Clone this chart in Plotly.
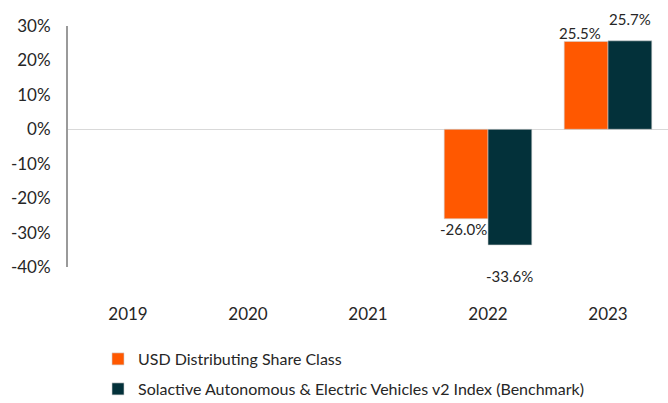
import plotly.graph_objects as go

years = ["2019", "2020", "2021", "2022", "2023"]
fund_name = "USD Distributing Share Class"
bench_name = "Solactive Autonomous & Electric Vehicles v2 Index (Benchmark)"
fund_values = [None, None, None, -26.0, 25.5]
bench_values = [None, None, None, -33.6, 25.7]
y_ticks = [30, 20, 10, 0, -10, -20, -30, -40]

ORANGE = "#FF5800"
DARK = "#03313A"
TEXT = "#262626"
FONT = "Lato"

fig = go.Figure()
fig.add_trace(go.Bar(x=years, y=fund_values, name=fund_name,
                     marker=dict(color=ORANGE, line=dict(color="#d0d0d0", width=0.6)),
                     legend="legend"))
fig.add_trace(go.Bar(x=years, y=bench_values, name=bench_name,
                     marker=dict(color=DARK, line=dict(color="#d0d0d0", width=0.6)),
                     legend="legend2"))

# value labels (offsets in px are style only)
fund_off = {3: (-3, -10), 4: (-6, 8)}
bench_off = {3: (0, -31), 4: (0, 22)}
for i, v in enumerate(fund_values):
    if v is None:
        continue
    dx, dy = fund_off.get(i, (0, 0))
    fig.add_annotation(x=i - 0.1825, y=v, text=f"{v:.1f}%", showarrow=False,
                       xshift=dx, yshift=dy, font=dict(size=15, color=TEXT, family=FONT))
for i, v in enumerate(bench_values):
    if v is None:
        continue
    dx, dy = bench_off.get(i, (0, 0))
    fig.add_annotation(x=i + 0.1825, y=v, text=f"{v:.1f}%", showarrow=False,
                       xshift=dx, yshift=dy, font=dict(size=15, color=TEXT, family=FONT))

fig.update_layout(
    width=668, height=403,
    margin=dict(l=68, r=0, t=26, b=136, autoexpand=False),
    paper_bgcolor="white", plot_bgcolor="white",
    barmode="group", bargap=0.27, bargroupgap=0,
    font=dict(family=FONT, color=TEXT, size=17),
    showlegend=True,
    legend=dict(xref="container", yref="container", x=98 / 668, y=1 - 359 / 403,
                xanchor="left", yanchor="middle",
                font=dict(size=16, color=TEXT, family=FONT), bgcolor="rgba(0,0,0,0)"),
    legend2=dict(xref="container", yref="container", x=98 / 668, y=1 - 389 / 403,
                 xanchor="left", yanchor="middle",
                 font=dict(size=16, color=TEXT, family=FONT), bgcolor="rgba(0,0,0,0)"),
)
fig.update_xaxes(type="category", showgrid=False, zeroline=False, showline=False,
                 automargin=False, ticks="", ticklabelstandoff=35,
                 tickfont=dict(size=17, color=TEXT))
fig.update_yaxes(range=[-40, 30], tickvals=y_ticks, ticktext=[f"{t}%" for t in y_ticks],
                 showgrid=False, zeroline=True, zerolinecolor="#d9d9d9", zerolinewidth=1,
                 showline=True, linecolor="#9a9a9a", linewidth=2, ticks="",
                 automargin=False, ticklabelstandoff=12,
                 tickfont=dict(size=17, color=TEXT))

fig.write_html("out.html", config={"displayModeBar": False},
               post_script="document.body.style.margin='0';document.body.style.overflow='hidden';")
